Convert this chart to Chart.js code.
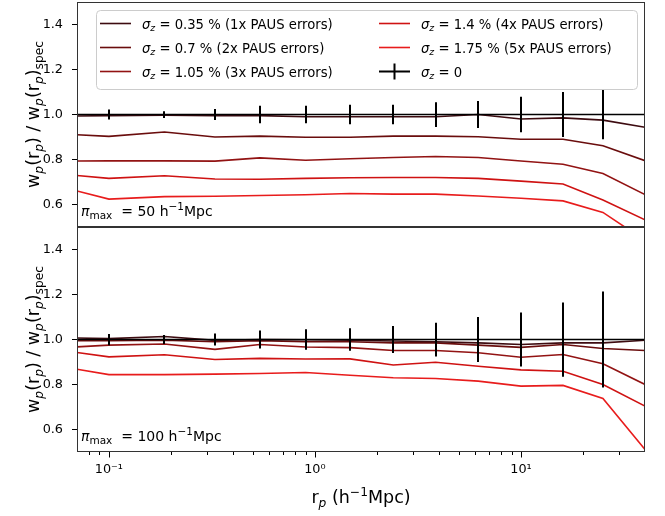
<!DOCTYPE html>
<html>
<head>
<meta charset="utf-8">
<script src="https://cdn.jsdelivr.net/npm/chart.js@4.4.1/dist/chart.umd.min.js"></script>
<style>
body { margin: 0; background: #fff; }
#wrap { position: relative; width: 665px; height: 516px; }
.box { position: absolute; left: 0; width: 665px; }
</style>
</head>
<body>
<div id="wrap">
  <div class="box" style="top:0;height:228px"><canvas id="top"></canvas></div>
  <div class="box" style="top:227px;height:289px"><canvas id="bot"></canvas></div>
</div>
<script>
// r_p bins (h^-1 Mpc)
var rp = [0.07, 0.1, 0.186, 0.327, 0.54, 0.9, 1.48, 2.4, 3.85, 6.2, 10, 16, 25, 40];

// pi_max = 50
var top1 = [0.993, 0.995, 0.997, 0.995, 0.995, 0.990, 0.990, 0.990, 0.990, 1.000, 0.980, 0.985, 0.975, 0.943];
var top2 = [0.910, 0.903, 0.922, 0.900, 0.904, 0.899, 0.899, 0.904, 0.904, 0.901, 0.890, 0.890, 0.861, 0.795];
var top3 = [0.793, 0.794, 0.794, 0.793, 0.807, 0.797, 0.803, 0.809, 0.813, 0.809, 0.793, 0.779, 0.738, 0.644];
var top4 = [0.729, 0.716, 0.728, 0.713, 0.712, 0.716, 0.719, 0.720, 0.720, 0.716, 0.704, 0.691, 0.620, 0.532];
var top5 = [0.660, 0.624, 0.635, 0.637, 0.640, 0.643, 0.649, 0.646, 0.646, 0.638, 0.628, 0.616, 0.565, 0.440];
var top0 = [1, 1, 1, 1, 1, 1, 1, 1, 1, 1, 1, 1, 1, 1];
var topErr = [null, 0.022, 0.015, 0.024, 0.039, 0.039, 0.043, 0.043, 0.055, 0.060, 0.079, 0.100, 0.110, null];

// pi_max = 100
var bot1 = [1.007, 1.004, 1.013, 0.996, 1.000, 0.999, 0.997, 0.993, 0.990, 0.985, 0.978, 0.985, 0.985, 0.997];
var bot2 = [0.995, 0.995, 0.997, 0.990, 0.995, 0.990, 0.990, 0.985, 0.985, 0.975, 0.965, 0.978, 0.960, 0.951];
var bot3 = [0.967, 0.975, 0.980, 0.956, 0.978, 0.967, 0.964, 0.951, 0.951, 0.941, 0.921, 0.933, 0.892, 0.800];
var bot4 = [0.942, 0.923, 0.932, 0.911, 0.916, 0.913, 0.914, 0.887, 0.899, 0.881, 0.865, 0.859, 0.800, 0.704];
var bot5 = [0.868, 0.844, 0.844, 0.846, 0.849, 0.853, 0.841, 0.830, 0.827, 0.815, 0.793, 0.796, 0.738, 0.511];
var bot0 = [1, 1, 1, 1, 1, 1, 1, 1, 1, 1, 1, 1, 1, 1];
var botErr = [null, 0.025, 0.020, 0.027, 0.040, 0.046, 0.050, 0.060, 0.075, 0.100, 0.120, 0.165, 0.213, null];

var sigmas = ['0.35', '0.7', '1.05', '1.4', '1.75'];
var mults = ['1x', '2x', '3x', '4x', '5x'];
var colors = ['#3d0b10', '#6a0d0d', '#921313', '#cf1212', '#e81c1c'];

var yTicks = [0.6, 0.8, 1.0, 1.2, 1.4];
var xTickVals = [0.1, 1, 10];
var xTickLabels = ['10\u207B\u00B9', '10\u2070', '10\u00B9'];
var xMinor = [0.08, 0.09, 0.2, 0.3, 0.4, 0.5, 0.6, 0.7, 0.8, 0.9, 2, 3, 4, 5, 6, 7, 8, 9, 20, 30];

var FONT = 'DejaVu Sans';

// draw text with sub (1) / superscript (2) pieces; y is the baseline
function rich(ctx, parts, x, y, size, align, sc) {
  sc = sc || 0.7;
  var w = 0;
  parts.forEach(function (p) {
    var s = p[1] ? size * sc : size;
    ctx.font = (p[2] ? 'italic ' : '') + s + 'px "' + FONT + '"';
    p.w = ctx.measureText(p[0]).width;
    w += p.w;
  });
  var cx = align == 'center' ? x - w / 2 : x;
  parts.forEach(function (p) {
    var s = p[1] ? size * sc : size;
    ctx.font = (p[2] ? 'italic ' : '') + s + 'px "' + FONT + '"';
    var dy = p[1] == 1 ? size * 0.22 : (p[1] == 2 ? -size * 0.42 : 0);
    ctx.fillText(p[0], cx, y + dy);
    cx += p.w;
  });
}

function sigmaLabel(i) {
  return [['\u03C3', 0, true], ['z', 1, true], [' = ' + sigmas[i] + ' % (' + mults[i] + ' PAUS errors)', 0]];
}

function makeDatasets(series, zero) {
  var ds = [{
    data: rp.map(function (x, i) { return { x: x, y: zero[i] }; }),
    borderColor: '#000', borderWidth: 1.6
  }];
  series.forEach(function (s, k) {
    ds.push({
      data: rp.map(function (x, i) { return { x: x, y: s[i] }; }),
      borderColor: colors[k], borderWidth: 1.6
    });
  });
  return ds;
}

function panelPlugin(err, zero, label, isTop) {
  return {
    id: 'panel',
    afterDatasetsDraw: function (chart) {
      var ctx = chart.ctx, a = chart.chartArea;
      var xs = chart.scales.x, ys = chart.scales.y;
      ctx.save();
      // error bars
      ctx.strokeStyle = '#000';
      ctx.lineWidth = 2;
      rp.forEach(function (x, i) {
        if (err[i] == null) return;
        var px = Math.round(xs.getPixelForValue(x));
        ctx.beginPath();
        ctx.moveTo(px, ys.getPixelForValue(zero[i] - err[i]));
        ctx.lineTo(px, ys.getPixelForValue(zero[i] + err[i]));
        ctx.stroke();
      });
      // frame
      ctx.strokeStyle = '#333';
      ctx.lineWidth = 1;
      ctx.strokeRect(a.left + 0.5, a.top + 0.5, a.width - 1, a.height - 1);
      ctx.fillStyle = '#000';
      ctx.textBaseline = 'alphabetic';
      // pi_max note
      rich(ctx, [['\u03C0', 0, true], ['max', 1], ['  = ' + label + ' h', 0], ['\u22121', 2], ['Mpc', 0]], a.left + 4, a.bottom - 11, 14, 'left', 0.75);
      // y title
      ctx.save();
      ctx.translate(33, (a.top + a.bottom) / 2);
      ctx.rotate(-Math.PI / 2);
      rich(ctx, [['w', 0], ['p', 1, true], ['(r', 0], ['p', 1, true], [') / w', 0], ['p', 1, true], ['(r', 0], ['p', 1, true], [')', 0], ['spec', 1]], 0, 6, 17.5, 'center');
      ctx.restore();
      if (isTop) {
        // legend
        var bx = 96, by = 10, bw = 541, bh = 79;
        ctx.fillStyle = 'rgba(255,255,255,0.85)';
        ctx.strokeStyle = '#cccccc';
        ctx.beginPath();
        ctx.roundRect(bx + 0.5, by + 0.5, bw, bh, 4);
        ctx.fill();
        ctx.stroke();
        for (var k = 0; k < 6; k++) {
          var col = k < 3 ? 0 : 1;
          var row = k % 3;
          var hx = col ? 379 : 100;
          var ly = 23.5 + row * 24;
          ctx.strokeStyle = k < 5 ? colors[k] : '#000';
          ctx.lineWidth = k < 5 ? 1.6 : 2;
          ctx.beginPath();
          ctx.moveTo(hx, ly);
          ctx.lineTo(hx + 31, ly);
          if (k == 5) {
            ctx.moveTo(hx + 15.5, ly - 8);
            ctx.lineTo(hx + 15.5, ly + 8);
          }
          ctx.stroke();
          ctx.fillStyle = '#000';
          var parts = k < 5 ? sigmaLabel(k) : [['\u03C3', 0, true], ['z', 1, true], [' = 0', 0]];
          rich(ctx, parts, hx + 42, ly + 5, 13.2, 'left');
        }
      } else {
        // minor / major x ticks
        ctx.strokeStyle = '#000';
        ctx.lineWidth = 1;
        ctx.beginPath();
        xMinor.forEach(function (v) {
          var px = Math.round(xs.getPixelForValue(v)) + 0.5;
          ctx.moveTo(px, a.bottom);
          ctx.lineTo(px, a.bottom + 3);
        });
        xTickVals.forEach(function (v) {
          var px = Math.round(xs.getPixelForValue(v)) + 0.5;
          ctx.moveTo(px, a.bottom);
          ctx.lineTo(px, a.bottom + 5.5);
        });
        ctx.stroke();
        // x title
        rich(ctx, [['r', 0], ['p', 1, true], [' (h', 0], ['\u22121', 2], ['Mpc)', 0]], (a.left + a.right) / 2, 276, 17.5, 'center');
      }
      ctx.restore();
    }
  };
}

function makeChart(id, series, zero, err, label, isTop) {
  return new Chart(document.getElementById(id), {
    type: 'line',
    data: { datasets: makeDatasets(series, zero) },
    options: {
      responsive: true,
      maintainAspectRatio: false,
      animation: false,
      devicePixelRatio: 1,
      layout: { padding: { left: 0, right: 20, top: isTop ? 2 : 0, bottom: isTop ? 1 : 0 } },
      elements: { point: { radius: 0 }, line: { tension: 0 } },
      plugins: { legend: { display: false }, tooltip: { enabled: false } },
      scales: {
        x: {
          type: 'logarithmic',
          min: 0.07, max: 40,
          display: !isTop,
          afterBuildTicks: function (s) { s.ticks = xTickVals.map(function (v) { return { value: v }; }); },
          afterFit: function (s) {
            if (!isTop) s.height = 64;
            s.paddingLeft = 0; s.paddingRight = 0;
          },
          grid: { drawOnChartArea: false, drawTicks: false },
          border: { display: false },
          ticks: {
            autoSkip: false, maxRotation: 0, padding: 10, color: '#000',
            font: { family: FONT, size: 12.8 },
            callback: function (v) { var i = xTickVals.indexOf(v); return i >= 0 ? xTickLabels[i] : ''; }
          }
        },
        y: {
          type: 'linear',
          min: 0.5, max: 1.5,
          afterBuildTicks: function (s) { s.ticks = yTicks.map(function (v) { return { value: v }; }); },
          afterFit: function (s) {
            s.width = 77;
            s.paddingTop = 0; s.paddingBottom = 0;
          },
          grid: { drawOnChartArea: false, tickLength: 5, color: '#000' },
          border: { display: false },
          ticks: {
            padding: 9, color: '#000',
            font: { family: FONT, size: 12.8 },
            callback: function (v) { return v.toFixed(1); }
          }
        }
      }
    },
    plugins: [panelPlugin(err, zero, label, isTop)]
  });
}

makeChart('top', [top1, top2, top3, top4, top5], top0, topErr, '50', true);
makeChart('bot', [bot1, bot2, bot3, bot4, bot5], bot0, botErr, '100', false);
</script>
</body>
</html>
